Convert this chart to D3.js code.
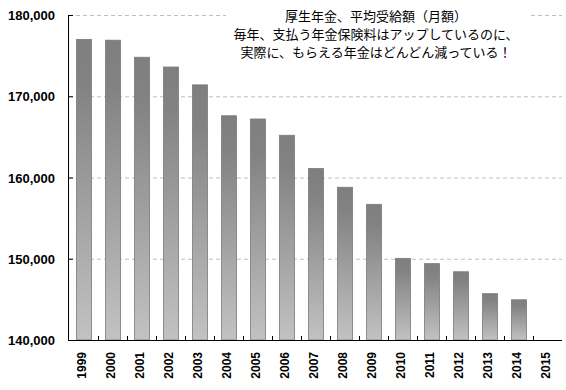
<!DOCTYPE html>
<html><head><meta charset="utf-8">
<script src="https://cdn.jsdelivr.net/npm/d3@7"></script>
<style>body{margin:0;background:#fff}svg{display:block}</style>
</head><body>
<script>
const years = ["1999","2000","2001","2002","2003","2004","2005","2006","2007","2008","2009","2010","2011","2012","2013","2014","2015"];
const amounts = [177000,176900,174800,173600,171400,167600,167200,165200,161100,158800,156700,150050,149400,148400,145700,144950,null];
const yTicks = [140000,150000,160000,170000,180000];
const titleLines = ["厚生年金、平均受給額（月額）","毎年、支払う年金保険料はアップしているのに、","実際に、もらえる年金はどんどん減っている！"];

const W=566,H=390;
const svg=d3.select("body").append("svg").attr("width",W).attr("height",H);
const x=d3.scaleBand().domain(years).range([69,562]).padding(0);
const y=d3.scaleLinear().domain([140000,180000]).range([340,15]);

const defs=svg.append("defs");
const g=defs.append("linearGradient").attr("id","bg").attr("x1",0).attr("y1",0).attr("x2",0).attr("y2",1);
g.append("stop").attr("offset","0%").attr("stop-color","#7f7f7f");
g.append("stop").attr("offset","15%").attr("stop-color","#828282");
g.append("stop").attr("offset","100%").attr("stop-color","#c2c2c2");

// gridlines
svg.append("g").selectAll("line").data(yTicks.filter(t=>t>140000)).join("line")
  .attr("x1",69).attr("x2",562).attr("y1",d=>y(d)+0.5).attr("y2",d=>y(d)+0.5)
  .attr("stroke","#c0c0c0").attr("stroke-dasharray","4,3");

// title background + text
svg.append("rect").attr("x",226).attr("y",5).attr("width",302).attr("height",58).attr("fill","#fff");
svg.append("g").selectAll("text").data(titleLines).join("text")
  .attr("x",376).attr("y",(d,i)=>21+i*18).attr("text-anchor","middle")
  .attr("font-family","'Noto Sans CJK JP',sans-serif").attr("font-size",13).attr("fill","#000")
  .text(d=>d);

// bars
const bw=x.bandwidth();
svg.append("g").selectAll("rect").data(years.map((d,i)=>({yr:d,v:amounts[i]})).filter(d=>d.v!=null)).join("rect")
  .attr("x",d=>x(d.yr)+bw*0.24+0.5).attr("width",bw*0.52)
  .attr("y",d=>y(d.v)).attr("height",d=>y(140000)-y(d.v))
  .attr("fill","url(#bg)").attr("stroke","#7a7a7a").attr("stroke-width",0.8);

// axes lines
svg.append("line").attr("x1",68.5).attr("x2",68.5).attr("y1",15).attr("y2",340.5).attr("stroke","#000");
svg.append("line").attr("x1",68).attr("x2",562).attr("y1",340.5).attr("y2",340.5).attr("stroke","#000");
// y ticks (inward)
svg.append("g").selectAll("line").data(yTicks).join("line")
  .attr("x1",68).attr("x2",73).attr("y1",d=>y(d)+0.5).attr("y2",d=>y(d)+0.5).attr("stroke","#000");
// x ticks (inward) at band boundaries
svg.append("g").selectAll("line").data(years.slice(1)).join("line")
  .attr("x1",d=>Math.round(x(d))+0.5).attr("x2",d=>Math.round(x(d))+0.5).attr("y1",336).attr("y2",340).attr("stroke","#000");

// y labels
svg.append("g").selectAll("text").data(yTicks).join("text")
  .attr("x",55).attr("y",d=>y(d)+5).attr("text-anchor","end")
  .attr("font-family","'Liberation Sans',Arial,sans-serif").attr("font-weight","bold").attr("font-size",13)
  .text(d=>d3.format(",")(d));

// x labels
svg.append("g").selectAll("text").data(years).join("text")
  .attr("transform",d=>`translate(${x(d)+bw/2+2.5},352) rotate(-90)`).attr("text-anchor","end")
  .attr("font-family","'Liberation Sans',Arial,sans-serif").attr("font-weight","bold").attr("font-size",12)
  .text(d=>d);
</script>
</body></html>
